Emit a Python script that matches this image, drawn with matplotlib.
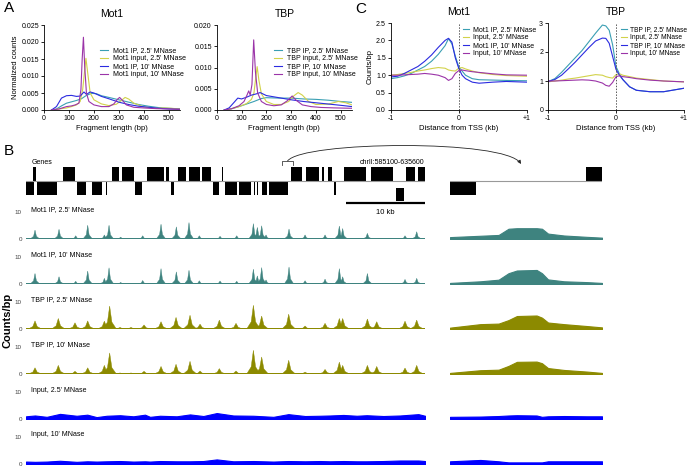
import numpy as np
import matplotlib
matplotlib.use('Agg')
import matplotlib.pyplot as plt
from matplotlib.transforms import Affine2D
from matplotlib.patches import FancyArrowPatch
from matplotlib.path import Path

plt.rcParams['font.family'] = ['Liberation Sans', 'DejaVu Sans']

# ---------------- panel A: fragment length distributions ----------------
mot1_ip25_x = [30, 50, 70, 90, 110, 130, 150, 170, 190, 210, 230, 260, 300, 340, 380, 420, 460, 500, 545]
mot1_ip25_y = [0, 0.3, 1.2, 2.0, 2.4, 2.8, 3.3, 4.3, 4.9, 4.8, 4.2, 3.7, 3.0, 2.3, 1.6, 1.1, 0.7, 0.5, 0.3]
mot1_in25_x = [30, 60, 90, 110, 130, 145, 155, 162, 168, 175, 185, 200, 230, 260, 290, 310, 325, 340, 360, 400, 450, 480, 510, 545]
mot1_in25_y = [0, 0.3, 0.6, 1.0, 1.5, 2.5, 6.0, 11.0, 15.2, 11.0, 5.0, 3.0, 1.8, 1.3, 1.7, 2.8, 3.7, 3.2, 2.0, 0.9, 0.5, 0.6, 0.5, 0.3]
mot1_ip10_x = [30, 50, 70, 90, 110, 130, 145, 160, 170, 185, 200, 230, 260, 300, 340, 380, 420, 460, 500, 545]
mot1_ip10_y = [0, 1.0, 3.5, 4.2, 4.3, 4.0, 4.1, 5.3, 4.6, 5.3, 5.0, 4.0, 3.3, 2.3, 1.6, 1.1, 0.8, 0.5, 0.3, 0.2]
mot1_in10_x = [30, 60, 90, 110, 125, 140, 148, 153, 158, 163, 170, 180, 200, 230, 260, 280, 295, 303, 315, 330, 360, 400, 450, 545]
mot1_in10_y = [0, 0.3, 1.0, 1.2, 1.5, 2.0, 6.0, 15.0, 21.4, 13.0, 5.0, 2.5, 1.5, 1.0, 1.0, 1.8, 3.2, 3.7, 2.8, 1.5, 0.8, 0.6, 0.4, 0.2]

tbp_ip25_x = [30, 60, 90, 120, 150, 180, 200, 250, 300, 350, 400, 450, 500, 545]
tbp_ip25_y = [0, 0.3, 0.8, 1.4, 2.0, 2.7, 2.9, 2.8, 2.8, 2.6, 2.5, 2.3, 2.0, 1.8]
tbp_in25_x = [30, 60, 90, 120, 140, 150, 157, 163, 170, 180, 200, 230, 260, 290, 310, 328, 345, 370, 400, 450, 490, 520, 545]
tbp_in25_y = [0, 0.3, 0.8, 1.5, 2.5, 4.0, 7.5, 10.2, 7.0, 3.8, 2.0, 1.3, 1.3, 2.0, 3.3, 4.1, 3.5, 2.0, 1.3, 1.4, 2.0, 1.7, 1.2]
tbp_ip10_x = [30, 50, 70, 85, 100, 120, 140, 160, 175, 200, 230, 260, 300, 350, 400, 450, 500, 545]
tbp_ip10_y = [0, 0.5, 1.8, 2.8, 2.6, 3.0, 3.5, 3.8, 4.1, 3.4, 3.1, 2.8, 2.4, 2.0, 1.7, 1.4, 1.1, 0.8]
tbp_in10_x = [30, 60, 90, 110, 122, 129, 135, 142, 149, 156, 165, 180, 200, 230, 260, 285, 304, 320, 345, 380, 420, 470, 545]
tbp_in10_y = [0, 0.3, 1.0, 2.0, 3.5, 4.5, 3.5, 6.0, 16.5, 9.0, 4.0, 2.0, 1.3, 1.0, 1.2, 2.2, 3.3, 2.3, 1.2, 0.8, 0.6, 0.5, 0.4]

# ---------------- panel C: TSS profiles ----------------
tss_x = [-1, -0.9, -0.8, -0.7, -0.6, -0.5, -0.4, -0.3, -0.2, -0.15, -0.1, -0.05, 0, 0.05, 0.1, 0.2, 0.3, 0.5, 0.7, 1.0]
c_mot1_ip25 = [0.9, 0.93, 0.98, 1.05, 1.15, 1.25, 1.4, 1.6, 1.85, 2.05, 1.9, 1.55, 1.25, 1.12, 1.0, 0.9, 0.87, 0.86, 0.85, 0.84]
c_mot1_in25 = [1.0, 1.02, 1.05, 1.08, 1.12, 1.15, 1.19, 1.22, 1.2, 1.15, 1.13, 1.12, 1.2, 1.22, 1.18, 1.12, 1.07, 1.02, 0.99, 0.97]
c_mot1_ip10 = [0.95, 0.97, 1.05, 1.15, 1.25, 1.4, 1.58, 1.8, 2.0, 2.06, 1.95, 1.5, 1.2, 1.0, 0.9, 0.8, 0.77, 0.8, 0.82, 0.8]
c_mot1_in10 = [1.0, 1.0, 1.01, 1.02, 1.03, 1.05, 1.03, 1.0, 0.93, 0.85, 0.9, 1.05, 1.13, 1.15, 1.13, 1.1, 1.08, 1.04, 1.01, 1.0]
c_tbp_ip25 = [0.98, 1.08, 1.3, 1.55, 1.8, 2.05, 2.35, 2.65, 2.93, 2.9, 2.75, 2.25, 1.5, 1.25, 1.05, 0.8, 0.68, 0.63, 0.63, 0.75]
c_tbp_in25 = [0.97, 1.0, 1.03, 1.07, 1.1, 1.14, 1.18, 1.22, 1.2, 1.15, 1.12, 1.1, 1.22, 1.25, 1.2, 1.15, 1.1, 1.05, 1.0, 0.97]
c_tbp_ip10 = [0.98, 1.05, 1.2, 1.42, 1.65, 1.9, 2.15, 2.38, 2.48, 2.47, 2.3, 1.85, 1.4, 1.2, 1.05, 0.8, 0.68, 0.63, 0.63, 0.75]
c_tbp_in10 = [1.0, 1.0, 1.01, 1.02, 1.03, 1.04, 1.03, 1.0, 0.93, 0.85, 0.82, 0.95, 1.15, 1.18, 1.15, 1.12, 1.08, 1.03, 1.0, 0.97]

# ---------------- panel B: genome browser (positions in kb from 585100) ----------------
region_kb = 50.5
genes_up_start = [0.92, 4.65, 10.89, 12.11, 15.35, 17.72, 19.28, 20.67, 22.32, 24.77, 33.54, 35.48, 37.51, 38.19, 40.29, 43.71, 48.10, 49.66]
genes_up_end = [1.23, 6.20, 11.77, 13.67, 17.47, 18.10, 20.22, 22.03, 23.42, 24.97, 34.90, 37.05, 37.68, 38.70, 43.04, 46.49, 49.28, 50.51]
genes_dn_start = [0.0, 1.35, 6.49, 8.32, 10.13, 13.84, 18.35, 23.71, 25.23, 26.96, 28.86, 29.24, 29.84, 30.72, 38.99]
genes_dn_end = [0.97, 3.89, 7.59, 9.58, 10.25, 14.72, 18.70, 24.43, 26.67, 28.44, 28.99, 29.37, 30.47, 33.20, 39.20]
genes_low_start = [46.80]
genes_low_end = [47.85]
zoom_region = (32.4, 33.8)

mot1_peaks = [1.14, 4.18, 6.29, 7.81, 9.92, 10.51, 11.98, 14.77, 17.09, 19.03, 20.63, 21.94, 24.56,
              26.67, 28.78, 29.28, 29.83, 30.38, 33.29, 35.32, 37.85, 39.66, 40.08, 43.21, 47.97, 49.45]
mot1_25_h = [3.3, 3.6, 1.2, 5.1, 1.5, 5.1, 0.7, 1.2, 5.5, 4.5, 6.1, 1.2, 1.0,
             1.2, 5.7, 4.3, 4.9, 1.5, 3.7, 1.5, 1.5, 4.8, 3.9, 2.1, 1.2, 2.7]
mot1_10_h = [3.9, 2.7, 1.0, 4.8, 2.1, 6.0, 0.6, 1.3, 5.7, 4.5, 5.1, 1.2, 1.1,
             1.0, 5.5, 3.0, 6.1, 1.5, 6.3, 1.2, 1.8, 5.7, 2.7, 3.9, 1.7, 2.1]
tbp_peaks = [1.14, 4.09, 6.20, 7.81, 9.92, 10.59, 11.90, 13.29, 14.94, 17.09, 18.99, 20.76, 22.03,
             24.47, 26.58, 28.78, 29.83, 33.25, 35.32, 37.85, 39.66, 40.08, 43.21, 44.39, 47.97, 49.45]
tbp_25_h = [3.0, 3.9, 2.3, 3.0, 2.9, 8.5, 0.6, 0.6, 1.5, 2.7, 4.3, 5.1, 1.8,
            3.3, 2.1, 8.8, 4.8, 5.5, 1.1, 2.1, 3.9, 3.9, 3.7, 2.7, 2.9, 3.3]
tbp_10_h = [2.3, 3.2, 1.0, 2.3, 3.2, 7.8, 0.4, 0.4, 1.0, 2.8, 3.6, 4.7, 1.1,
            2.0, 1.1, 8.8, 6.3, 5.1, 0.7, 1.7, 4.4, 3.2, 3.2, 2.8, 2.2, 3.2]
input_x = [0, 1.14, 2.62, 4.30, 6.41, 7.76, 8.94, 10.21, 11.90, 13.59, 15.06, 15.70, 16.96, 19.07, 20.76, 22.45,
           24.14, 26.24, 28.78, 31.31, 33.21, 35.32, 37.22, 38.48, 40.17, 41.86, 43.12, 45.23, 47.34, 49.66, 50.5]
input_25 = [1.0, 1.3, 0.8, 1.9, 1.2, 1.6, 0.7, 1.2, 1.4, 1.0, 1.6, 0.8, 1.2, 1.0, 1.7, 1.1,
            2.2, 1.3, 1.2, 0.8, 1.8, 1.1, 1.2, 1.3, 1.5, 1.2, 1.4, 1.1, 1.3, 1.8, 1.2]
input_10 = [0.9, 0.8, 0.9, 1.2, 0.8, 1.0, 0.9, 1.0, 1.1, 0.9, 1.0, 0.9, 1.1, 1.0, 1.0, 1.1,
            1.7, 1.0, 1.1, 0.9, 1.1, 1.0, 1.1, 1.0, 1.1, 1.0, 1.0, 1.1, 1.3, 1.3, 1.1]

# zoomed-in window (local bp)
zoom_x = [0, 200, 320, 385, 440, 570, 605, 645, 750, 900, 1000]
zoom_mot1_25 = [0.7, 1.2, 1.5, 3.8, 4.0, 4.0, 3.8, 2.0, 1.3, 0.8, 0.5]
zoom_mot1_10 = [0.4, 1.0, 1.6, 4.0, 5.0, 5.2, 4.0, 1.7, 1.0, 0.7, 0.4]
zoom_tbp_25 = [0.5, 1.8, 2.0, 3.3, 4.8, 5.0, 4.2, 2.4, 1.8, 1.1, 0.6]
zoom_tbp_10 = [0.4, 1.4, 1.6, 3.0, 4.5, 4.6, 4.0, 2.2, 1.5, 0.9, 0.4]
zoom_in_25 = [0.8, 0.9, 1.1, 1.3, 1.4, 1.3, 0.8, 1.0, 1.1, 1.0, 1.0]
zoom_in_10 = [1.0, 1.5, 1.0, 0.6, 0.6, 0.6, 0.6, 1.0, 1.0, 1.0, 1.0]
zoom_gene_dn = (0, 170)
zoom_gene_up = (895, 1000)

track_labels = ["Mot1 IP, 2.5' MNase", "Mot1 IP, 10' MNase", "TBP IP, 2.5' MNase",
                "TBP IP, 10' MNase", "Input, 2.5' MNase", "Input, 10' MNase"]

c_teal, c_yel, c_blue, c_pur = '#3a9fb3', '#d2d24a', '#2b2be0', '#9b34a8'
trk_mot1, trk_tbp, trk_in = '#3e837f', '#8c8a00', '#0000ff'

W, H = 691, 466
fig = plt.figure(figsize=(W / 100, H / 100), dpi=100)
T = Affine2D().scale(1 / W, -1 / H).translate(0, 1) + fig.transFigure


def box(x0, y0, x1, y1):
    return [x0 / W, 1 - y1 / H, (x1 - x0) / W, (y1 - y0) / H]


def style(ax):
    for s in ['top', 'right']:
        ax.spines[s].set_visible(False)
    for s in ['left', 'bottom']:
        ax.spines[s].set_linewidth(0.6)
    ax.tick_params(labelsize=5, length=2, width=0.6, pad=1.5)


def legend(ax, x, y, hl, tp, fs=5):
    ax.legend(loc='upper left', bbox_to_anchor=(x, y), bbox_transform=T, frameon=False,
              fontsize=fs, handlelength=hl, handletextpad=tp, labelspacing=0.15,
              borderpad=0, borderaxespad=0)


def genes(ax, starts, ends, bottom, height, clip=True):
    ax.bar(starts, height, width=np.subtract(ends, starts), bottom=bottom, align='edge',
           color='black', lw=0, clip_on=clip)


# panel letters
for lab, x, y in [('A', 4, 8), ('B', 4, 151), ('C', 355, 9)]:
    fig.text(x, y, lab, transform=T, fontsize=11, ha='left', va='center')

# ---- A ----
axA1 = fig.add_axes(box(44, 25, 180, 110))
curves = [(mot1_ip25_x, mot1_ip25_y, c_teal, "Mot1 IP, 2.5' MNase"),
          (mot1_in25_x, mot1_in25_y, c_yel, "Mot1 input, 2.5' MNase"),
          (mot1_ip10_x, mot1_ip10_y, c_blue, "Mot1 IP, 10' MNase"),
          (mot1_in10_x, mot1_in10_y, c_pur, "Mot1 input, 10' MNase")]
for x, y, c, l in curves:
    axA1.plot(x, np.array(y) / 1000, color=c, lw=0.8, label=l)
axA1.set_xlim(0, 545)
axA1.set_ylim(0, 0.025)
axA1.set_xticks([0, 100, 200, 300, 400, 500])
axA1.set_yticks([0, 0.005, 0.01, 0.015, 0.02, 0.025])
axA1.set_yticklabels(['0.000', '0.005', '0.010', '0.015', '0.020', '0.025'])
style(axA1)
axA1.set_title('Mot1', fontsize=7.5, pad=6)
axA1.set_xlabel('Fragment length (bp)', fontsize=5.5, labelpad=2)
axA1.set_ylabel('Normalized counts', fontsize=5.5, labelpad=2)
legend(axA1, 100, 47, 1.2, 0.7)

axA2 = fig.add_axes(box(216.7, 25, 352, 110))
curves = [(tbp_ip25_x, tbp_ip25_y, c_teal, "TBP IP, 2.5' MNase"),
          (tbp_in25_x, tbp_in25_y, c_yel, "TBP input, 2.5' MNase"),
          (tbp_ip10_x, tbp_ip10_y, c_blue, "TBP IP, 10' MNase"),
          (tbp_in10_x, tbp_in10_y, c_pur, "TBP input, 10' MNase")]
for x, y, c, l in curves:
    axA2.plot(x, np.array(y) / 1000, color=c, lw=0.8, label=l)
axA2.set_xlim(0, 545)
axA2.set_ylim(0, 0.020)
axA2.set_xticks([0, 100, 200, 300, 400, 500])
axA2.set_yticks([0, 0.005, 0.01, 0.015, 0.02])
axA2.set_yticklabels(['0.000', '0.005', '0.010', '0.015', '0.020'])
style(axA2)
axA2.set_title('TBP', fontsize=7.5, pad=6)
axA2.set_xlabel('Fragment length (bp)', fontsize=5.5, labelpad=2)
legend(axA2, 274, 47, 1.2, 0.7)

# ---- C ----
axC1 = fig.add_axes(box(390.7, 23, 526.7, 110))
for y, c, l in [(c_mot1_ip25, c_teal, "Mot1 IP, 2.5' MNase"), (c_mot1_in25, c_yel, "Input, 2.5' MNase"),
                (c_mot1_ip10, c_blue, "Mot1 IP, 10' MNase"), (c_mot1_in10, c_pur, "Input, 10' MNase")]:
    axC1.plot(tss_x, y, color=c, lw=0.8, label=l)
axC1.set_xlim(-1, 1)
axC1.set_ylim(0, 2.5)
axC1.set_yticks([0, 0.5, 1, 1.5, 2, 2.5])
axC1.set_yticklabels(['0.0', '0.5', '1.0', '1.5', '2.0', '2.5'])
axC1.set_xticks([-1, 0, 1])
axC1.set_xticklabels(['-1', '0', '+1'])
axC1.axvline(0, color='0.35', lw=0.7, ls=(0, (1.5, 1.5)))
style(axC1)
axC1.set_title('Mot1', fontsize=7.5, pad=6)
axC1.set_xlabel('Distance from TSS (kb)', fontsize=5.5, labelpad=2)
axC1.set_ylabel('Counts/bp', fontsize=5.5, labelpad=2)
legend(axC1, 463, 26, 0.9, 0.5)

axC2 = fig.add_axes(box(548, 23, 684, 110))
for y, c, l in [(c_tbp_ip25, c_teal, "TBP IP, 2.5' MNase"), (c_tbp_in25, c_yel, "Input, 2.5' MNase"),
                (c_tbp_ip10, c_blue, "TBP IP, 10' MNase"), (c_tbp_in10, c_pur, "Input, 10' MNase")]:
    axC2.plot(tss_x, y, color=c, lw=0.8, label=l)
axC2.set_xlim(-1, 1)
axC2.set_ylim(0, 3)
axC2.set_yticks([0, 1, 2, 3])
axC2.set_xticks([-1, 0, 1])
axC2.set_xticklabels(['-1', '0', '+1'])
axC2.axvline(0, color='0.35', lw=0.7, ls=(0, (1.5, 1.5)))
style(axC2)
axC2.set_title('TBP', fontsize=7.5, pad=6)
axC2.set_xlabel('Distance from TSS (kb)', fontsize=5.5, labelpad=2)
legend(axC2, 621, 26, 0.9, 0.4, fs=4.8)

# ---- B: genes ----
GX0, GX1 = 26, 425
ZX0, ZX1 = 450, 602
axG = fig.add_axes(box(GX0, 166.7, GX1, 195.3))
axG.axhline(0, color='0.6', lw=0.8)
genes(axG, genes_up_start, genes_up_end, 0, 1)
genes(axG, genes_dn_start, genes_dn_end, -1, 1)
genes(axG, genes_low_start, genes_low_end, -1.42, 0.96, clip=False)
axG.set_xlim(0, region_kb)
axG.set_ylim(-1, 1)
axG.axis('off')
# scale bar (10 kb)
axG.plot([region_kb - 10, region_kb], [-1.55, -1.55], color='black', lw=1.6, clip_on=False, solid_capstyle='butt')
axG.text(region_kb - 5, -2.2, '10 kb', fontsize=5.5, ha='center', va='center')
fig.text(32, 162, 'Genes', transform=T, fontsize=5, va='center')
fig.text(424, 162, 'chrII:585100-635600', transform=T, fontsize=5, va='center', ha='right')

axGZ = fig.add_axes(box(ZX0, 166.7, ZX1, 195.3))
axGZ.axhline(0, color='0.6', lw=0.8)
genes(axGZ, [zoom_gene_dn[0]], [zoom_gene_dn[1]], -1, 1)
genes(axGZ, [zoom_gene_up[0]], [zoom_gene_up[1]], 0, 1)
axGZ.set_xlim(0, 1000)
axGZ.set_ylim(-1, 1)
axGZ.axis('off')

# bracket + arrow to the zoomed window
bx0 = GX0 + zoom_region[0] / region_kb * (GX1 - GX0)
bx1 = GX0 + zoom_region[1] / region_kb * (GX1 - GX0)
fig.add_artist(plt.Line2D([bx0, bx0, bx1, bx1], [165, 161, 161, 165], transform=T, color='0.25', lw=0.6))
bm = (bx0 + bx1) / 2
arc = Path([(bm, 161), (bm + 15, 141), (505, 139), (521, 164)],
           [Path.MOVETO, Path.CURVE4, Path.CURVE4, Path.CURVE4])
fig.add_artist(FancyArrowPatch(path=arc, arrowstyle='-|>', mutation_scale=5, lw=0.6, color='0.15', transform=T))

# ---- B: tracks ----
# (peaks, heights, colour, narrow half-width, skirt half-width, zoomed profile)
tracks = [(mot1_peaks, mot1_25_h, trk_mot1, 0.18, 0.6, zoom_mot1_25),
          (mot1_peaks, mot1_10_h, trk_mot1, 0.18, 0.6, zoom_mot1_10),
          (tbp_peaks, tbp_25_h, trk_tbp, 0.28, 0.85, zoom_tbp_25),
          (tbp_peaks, tbp_10_h, trk_tbp, 0.28, 0.85, zoom_tbp_10),
          (None, input_25, trk_in, 0, 0, zoom_in_25),
          (None, input_10, trk_in, 0, 0, zoom_in_10)]
for i, (pk, hts, col, hw, sw, zvals) in enumerate(tracks):
    top = 212 + 45 * i
    bot = top + 27
    ax = fig.add_axes(box(GX0, top, GX1, bot))
    ax.patch.set_alpha(0)
    if pk is None:
        ax.fill_between(input_x, 0, hts, color=col, lw=0.8, edgecolor=col)
    else:
        ax.fill_between([0, region_kb], 0, 0.35, color=col, lw=0)
        for p, h in zip(pk, hts):
            ax.fill([p - sw, p - hw, p, p + hw, p + sw], [0, 0.3 * h, h, 0.3 * h, 0], color=col, lw=0.3)
    ax.set_xlim(0, region_kb)
    ax.set_ylim(0, 10)
    for s in ax.spines.values():
        s.set_visible(False)
    ax.set_xticks([])
    ax.set_yticks([0, 10])
    ax.tick_params(axis='y', length=0, labelsize=4.5, pad=3, labelcolor='0.25')
    fig.text(31, top - 2, track_labels[i], transform=T, fontsize=5, va='center')

    axz = fig.add_axes(box(ZX0, top, ZX1, bot))
    axz.patch.set_alpha(0)
    axz.fill_between(zoom_x, 0, zvals, color=col, lw=0.8, edgecolor=col)
    axz.set_xlim(0, 1000)
    axz.set_ylim(0, 10)
    axz.axis('off')

fig.text(8, 320, 'Counts/bp', transform=T, fontsize=8, fontweight='bold', rotation=90, ha='center', va='center')

fig.savefig('out.png', dpi=100)
